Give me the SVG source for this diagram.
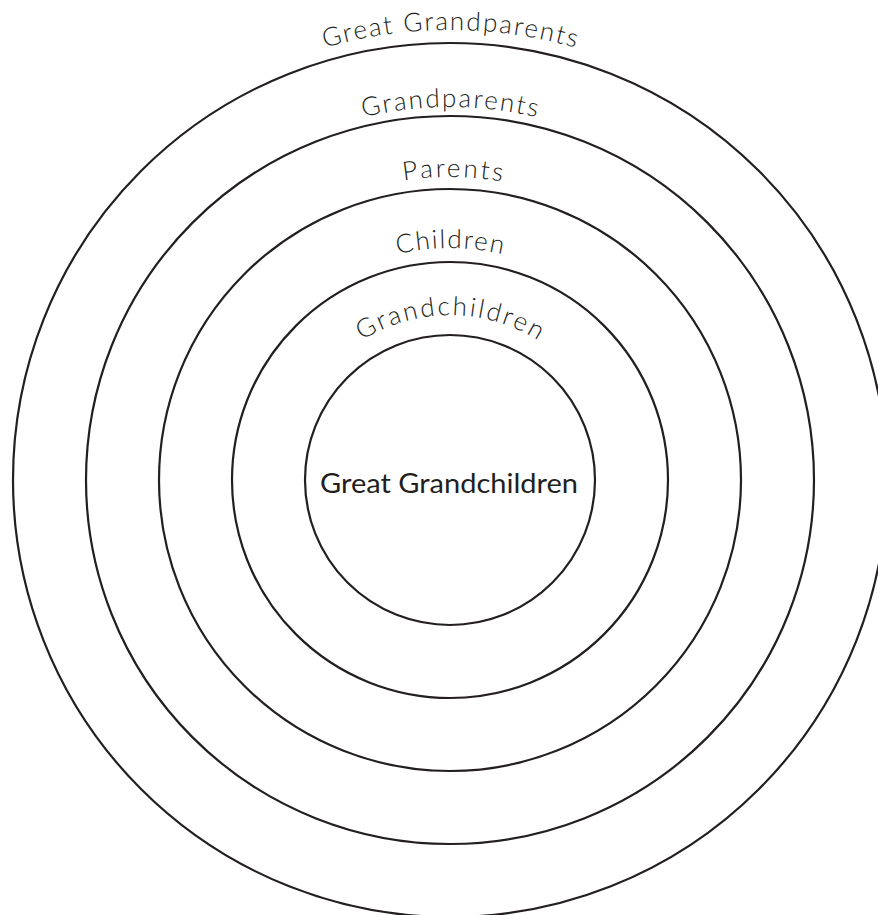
<svg xmlns="http://www.w3.org/2000/svg" xmlns:xlink="http://www.w3.org/1999/xlink" width="878" height="915" viewBox="0 0 878 915">
<style>
.ring{fill:none;stroke:#231f20;stroke-width:2.2}
.lbl{font-family:Lato,"Noto Sans","Liberation Sans",sans-serif;font-weight:300;font-size:26px;fill:#231f20}
.ctr{font-family:Lato,"Noto Sans","Liberation Sans",sans-serif;font-weight:400;font-size:26px;fill:#231f20}
</style>
<defs>
<path id="p1" d="M0,480 A450,450 0 0 1 900,480"/>
<path id="p2" d="M77,480 A373,373 0 0 1 823,480"/>
<path id="p3" d="M147,480 A303,303 0 0 1 753,480"/>
<path id="p4" d="M218,480 A232,232 0 0 1 682,480"/>
<path id="p5" d="M285,480 A165,165 0 0 1 615,480"/>
</defs>
<rect width="878" height="915" fill="#ffffff"/>
<g id="ring-great-grandparents">
<circle class="ring" cx="450" cy="480" r="437"/>
<text class="lbl" text-anchor="middle"><textPath xlink:href="#p1" href="#p1" startOffset="50%" textLength="254" lengthAdjust="spacing">Great Grandparents</textPath></text>
</g>
<g id="ring-grandparents">
<circle class="ring" cx="450" cy="480" r="364"/>
<text class="lbl" text-anchor="middle"><textPath xlink:href="#p2" href="#p2" startOffset="50%" textLength="175" lengthAdjust="spacing">Grandparents</textPath></text>
</g>
<g id="ring-parents">
<circle class="ring" cx="450" cy="480" r="291"/>
<text class="lbl" text-anchor="middle"><textPath xlink:href="#p3" href="#p3" startOffset="50.3%" textLength="99" lengthAdjust="spacing">Parents</textPath></text>
</g>
<g id="ring-children">
<circle class="ring" cx="450" cy="480" r="218"/>
<text class="lbl" text-anchor="middle"><textPath xlink:href="#p4" href="#p4" startOffset="50%" textLength="106" lengthAdjust="spacing">Children</textPath></text>
</g>
<g id="ring-grandchildren">
<circle class="ring" cx="450" cy="480" r="145"/>
<text class="lbl" text-anchor="middle"><textPath xlink:href="#p5" href="#p5" startOffset="50%" textLength="186" lengthAdjust="spacing">Grandchildren</textPath></text>
</g>
<g id="center-great-grandchildren">
<text class="ctr" x="449" y="493" text-anchor="middle" textLength="258" lengthAdjust="spacingAndGlyphs">Great Grandchildren</text>
</g>
</svg>
